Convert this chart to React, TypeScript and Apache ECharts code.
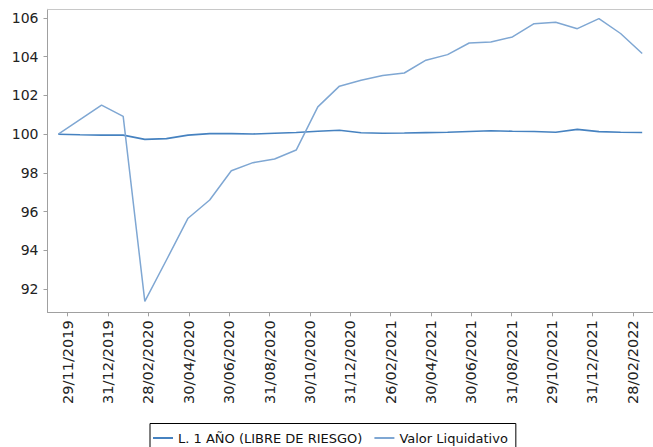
import React, { useEffect, useRef } from "react";
import * as echarts from "echarts";

const dates = [
  "29/11/2019", "31/12/2019", "31/01/2020", "28/02/2020", "31/03/2020", "30/04/2020",
  "29/05/2020", "30/06/2020", "31/07/2020", "31/08/2020", "30/09/2020", "30/10/2020",
  "30/11/2020", "31/12/2020", "29/01/2021", "26/02/2021", "31/03/2021", "30/04/2021",
  "31/05/2021", "30/06/2021", "30/07/2021", "31/08/2021", "30/09/2021", "29/10/2021",
  "30/11/2021", "31/12/2021", "31/01/2022", "28/02/2022",
];

const tickLabels = [
  "29/11/2019", "31/12/2019", "28/02/2020", "30/04/2020", "30/06/2020", "31/08/2020",
  "30/10/2020", "31/12/2020", "26/02/2021", "30/04/2021", "30/06/2021", "31/08/2021",
  "29/10/2021", "31/12/2021", "28/02/2022",
];

const letras1Ano = [
  100.0, 99.97, 99.95, 99.95, 99.73, 99.77, 99.95, 100.03, 100.03, 100.01,
  100.05, 100.09, 100.15, 100.2, 100.07, 100.05, 100.06, 100.08, 100.1, 100.14,
  100.18, 100.15, 100.14, 100.1, 100.25, 100.13, 100.1, 100.09,
];

const valorLiquidativo = [
  100.0, 100.75, 101.5, 100.92, 91.36, 93.5, 95.66, 96.6, 98.11, 98.53,
  98.72, 99.18, 101.41, 102.48, 102.79, 103.03, 103.16, 103.82, 104.11, 104.71,
  104.76, 105.02, 105.71, 105.78, 105.45, 105.97, 105.2, 104.17,
];

const seriesNames = ["L. 1 AÑO (LIBRE DE RIESGO)", "Valor Liquidativo"];

export default function App() {
  const ref = useRef<HTMLDivElement>(null);
  useEffect(() => {
    if (!ref.current) return;
    const chart = echarts.init(ref.current, undefined, { renderer: "svg" });
    const font = "DejaVu Sans";
    chart.setOption({
      animation: false,
      backgroundColor: "#ffffff",
      grid: { left: 47.5, right: 0, top: 9.3, bottom: 134.7, containLabel: false },
      legend: {
        data: seriesNames,
        left: 150,
        top: 423.5,
        orient: "horizontal",
        icon: "rect",
        borderColor: "#000",
        borderWidth: 1,
        padding: [8, 8, 8, 3],
        itemWidth: 20,
        itemHeight: 2,
        itemGap: 12,
        textStyle: { fontSize: 13, fontFamily: font, color: "#111" },
      },
      xAxis: [
        {
          type: "category",
          data: dates,
          boundaryGap: true,
          show: false,
          position: "bottom",
        },
        {
          type: "category",
          data: tickLabels,
          boundaryGap: true,
          position: "bottom",
          axisLine: { show: true, lineStyle: { color: "#a0a0a0", width: 1 } },
          axisTick: { show: true, alignWithLabel: true, length: 4, lineStyle: { color: "#a0a0a0" } },
          axisLabel: {
            interval: 0,
            rotate: 90,
            margin: 8,
            fontSize: 14.5,
            fontFamily: font,
            color: "#222",
          },
          splitLine: { show: false },
        },
        {
          type: "category",
          data: tickLabels,
          position: "top",
          axisLine: { show: true, lineStyle: { color: "#c8c8c8", width: 1 } },
          axisTick: { show: false },
          axisLabel: { show: false },
          splitLine: { show: false },
        },
      ],
      yAxis: {
        type: "value",
        min: 90.8,
        max: 106.45,
        splitNumber: 7,
        axisLine: { show: true, lineStyle: { color: "#a0a0a0", width: 1 } },
        axisTick: { show: true, length: 4, lineStyle: { color: "#a0a0a0" } },
        axisLabel: {
          showMinLabel: false,
          showMaxLabel: false,
          margin: 9,
          fontSize: 14,
          fontFamily: font,
          color: "#222",
        },
        splitLine: { show: false },
      },
      series: [
        {
          name: seriesNames[0],
          type: "line",
          xAxisIndex: 0,
          data: letras1Ano,
          symbol: "none",
          lineStyle: { color: "#4682c0", width: 1.6 },
          itemStyle: { color: "#4682c0" },
        },
        {
          name: seriesNames[1],
          type: "line",
          xAxisIndex: 0,
          data: valorLiquidativo,
          symbol: "none",
          lineStyle: { color: "#7fa7d3", width: 1.5 },
          itemStyle: { color: "#7fa7d3" },
        },
      ],
    });
    return () => chart.dispose();
  }, []);
  return (
    <div
      ref={ref}
      style={{ position: "fixed", left: 0, top: 0, width: 653, height: 447 }}
    />
  );
}
